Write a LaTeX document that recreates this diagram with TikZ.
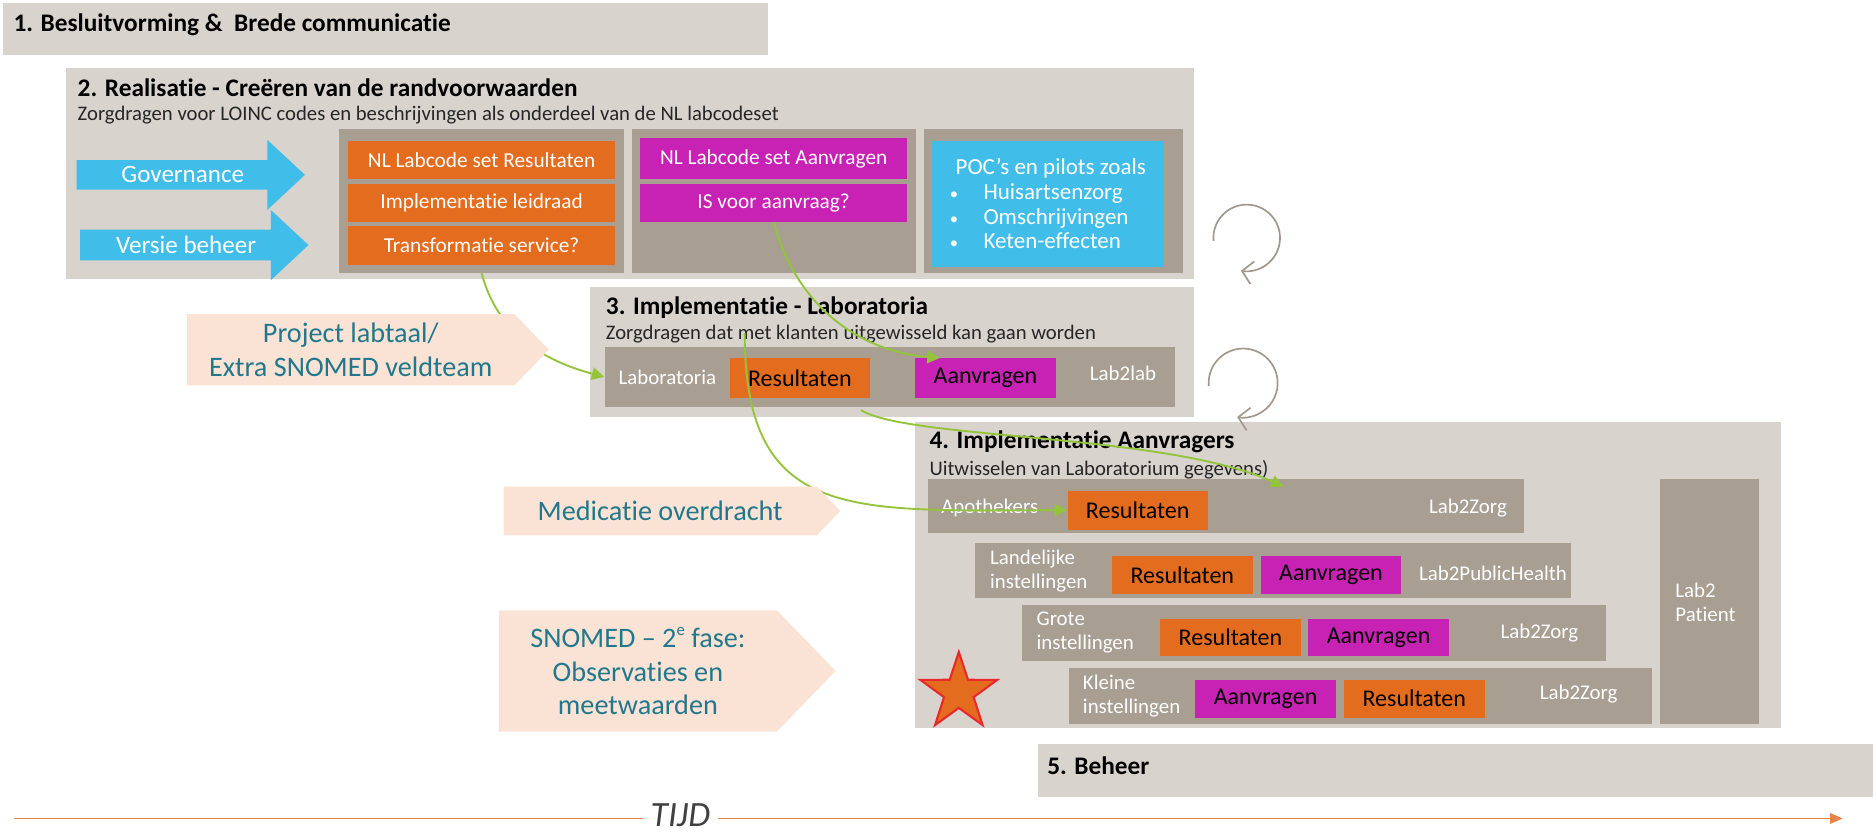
\documentclass[tikz,border=0pt]{standalone}
\usepackage{fontspec}
\setmainfont{Carlito}[Ligatures=CommonOff]
\usetikzlibrary{shapes.arrows,shapes.symbols,shapes.geometric,arrows.meta}

\definecolor{panelc}{HTML}{D9D3CE}
\definecolor{slabc}{HTML}{A89E92}
\definecolor{orngc}{HTML}{E46C1F}
\definecolor{magc}{HTML}{C722B3}
\definecolor{bluec}{HTML}{41BDEA}
\definecolor{peachc}{HTML}{FAE2D5}
\definecolor{tealc}{HTML}{21788C}
\definecolor{linkc}{HTML}{93C43A}
\definecolor{cycc}{HTML}{A0978D}
\definecolor{timec}{HTML}{E8834A}
\definecolor{starc}{HTML}{E8282B}

\newcommand{\pocdot}{{\fontsize{8}{8}\selectfont\textbullet}\hspace{1.1em}}

\begin{document}
\begin{tikzpicture}[x=0.02cm,y=-0.02cm]
\useasboundingbox (0,0) rectangle (1577,703);
\tikzset{
  sz/.style 2 args={minimum width=#1*0.02cm,minimum height=#2*0.02cm},
  panel/.style={fill=panelc,inner sep=0pt,anchor=north west},
  slab/.style={fill=slabc,inner sep=0pt,anchor=north west},
  tag/.style={inner sep=0pt,anchor=north west,text=white,font=\fontsize{10.2}{12}\selectfont},
  res/.style={tag,fill=orngc},
  aan/.style={tag,fill=magc},
  resb/.style={res,text=black,font=\fontsize{11.5}{13}\selectfont},
  aanb/.style={aan,text=black,font=\fontsize{11.5}{13}\selectfont},
  hd/.style={anchor=west,inner sep=0pt,font=\bfseries\fontsize{12.1}{14}\selectfont},
  sub/.style={anchor=west,inner sep=0pt,text=black!85,font=\fontsize{9.9}{11}\selectfont},
  wt/.style={inner sep=0pt,text=white,font=\fontsize{10}{11.4}\selectfont,align=left},
  blk/.style={single arrow,fill=bluec,inner sep=0pt,anchor=west,text=white,
    font=\fontsize{12}{14}\selectfont,single arrow head extend=0.2cm,
    single arrow tip angle=86,minimum width=1.18cm},
  proj/.style={signal,signal to=east,signal pointer angle=92,fill=peachc,inner sep=0pt,
    anchor=west,text=tealc,align=center,font=\fontsize{13.5}{16}\selectfont},
  link/.style={linkc,line width=0.9pt,-{Triangle[length=6pt,width=6pt]}},
  cyc/.style={cycc,line width=0.8pt,-{Straight Barb[length=5pt,width=11pt]}},
  time/.style={timec,line width=0.9pt}
}

% fasen
\node[panel,sz={643}{44}] (p1) at (2,2) {};
\node[hd] (h1) at (11,21) {1. Besluitvorming \&\ \ Brede communicatie};
\node[panel,sz={948}{177}] (p2) at (55,57) {};
\node[hd] (h2) at (65,74) {2. Realisatie - Creëren van de randvoorwaarden};
\node[sub] (s2) at (65,97) {Zorgdragen voor LOINC codes en beschrijvingen als onderdeel van de NL labcodeset};
\node[panel,sz={507}{109}] (p3) at (496,241) {};
\node[hd] (h3) at (509,259) {3. Implementatie - Laboratoria};
\node[sub] (s3) at (509,281) {Zorgdragen dat met klanten uitgewisseld kan gaan worden};
\node[panel,sz={728}{258}] (p4) at (769,354) {};
\node[hd] (h4) at (781,371) {4. Implementatie Aanvragers};
\node[sub] (s4) at (781,395) {Uitwisselen van Laboratorium gegevens)};
\node[panel,sz={702}{45}] (p5) at (872,625) {};
\node[hd] (h5) at (880,644) {5. Beheer};

% realisatie
\node[blk,minimum height=3.84cm] (gov) at (64,147) {Governance};
\node[blk,minimum height=3.84cm] (ver) at (67,206) {Versie beheer};
\node[slab,sz={239}{121}] (col1) at (285,108) {};
\node[slab,sz={239}{121}] (col2) at (531,108) {};
\node[slab,sz={218}{121}] (col3) at (776,108) {};
\node[res,sz={225}{32}] (lcr) at (292,118) {NL Labcode set Resultaten};
\node[res,sz={225}{32}] (ild) at (292,154) {Implementatie leidraad};
\node[res,sz={225}{32}] (trs) at (292,190) {Transformatie service?};
\node[aan,sz={224}{34}] (lca) at (538,116) {NL Labcode set Aanvragen};
\node[aan,sz={224}{32}] (isv) at (538,154) {IS voor aanvraag?};
\node[fill=bluec,inner sep=0pt,anchor=north west,sz={195}{106},text=white,align=left,
  font=\fontsize{11}{11.8}\selectfont] (poc) at (783,118)
  {\hspace{0.25em}POC’s en pilots zoals\\
   \pocdot Huisartsenzorg\\
   \pocdot Omschrijvingen\\
   \pocdot Keten-effecten};

% laboratoria
\node[slab,sz={479}{51}] (lab) at (508,291) {};
\node[wt] (labt) at (561,317) {Laboratoria};
\node[resb,sz={118}{33}] (res3) at (613,301) {Resultaten};
\node[aanb,sz={118}{33}] (aan3) at (769,301) {Aanvragen};
\node[wt] (l2l) at (944,314) {Lab2lab};

% aanvragers
\node[slab,sz={501}{46}] (row1) at (780,402) {};
\node[wt] (apo) at (832,427) {Apothekers};
\node[resb,sz={118}{33}] (res4a) at (897,412) {Resultaten};
\node[wt] (l2z1) at (1234,427) {Lab2Zorg};
\node[slab,sz={501}{46}] (row2) at (819,456) {};
\node[wt,anchor=west] (lan) at (832,480) {Landelijke\\instellingen};
\node[resb,sz={119}{32}] (res4b) at (934,467) {Resultaten};
\node[aanb,sz={117}{32}] (aan4b) at (1060,467) {Aanvragen};
\node[wt] (l2p) at (1255,482) {Lab2PublicHealth};
\node[slab,sz={491}{47}] (row3) at (859,508) {};
\node[wt,anchor=west] (gro) at (871,532) {Grote\\instellingen};
\node[resb,sz={118}{31}] (res4c) at (975,520) {Resultaten};
\node[aanb,sz={119}{31}] (aan4c) at (1099,520) {Aanvragen};
\node[wt] (l2z3) at (1294,532) {Lab2Zorg};
\node[slab,sz={490}{47}] (row4) at (898,561) {};
\node[wt,anchor=west] (kle) at (910,585) {Kleine\\instellingen};
\node[aanb,sz={119}{32}] (aan4d) at (1004,571) {Aanvragen};
\node[resb,sz={119}{32}] (res4d) at (1129,571) {Resultaten};
\node[wt] (l2z4) at (1327,583) {Lab2Zorg};
\node[slab,sz={83}{206}] (pat) at (1395,402) {};
\node[wt,anchor=west] (patt) at (1408,506) {Lab2\\Patient};

% iteraties
\coordinate (cyc1) at (1048,200);
\coordinate (cyc2) at (1045,322);
\draw[cyc] ([shift={(185:0.56cm)}]cyc1) arc[start angle=185,end angle=-100,radius=0.56cm];
\draw[cyc] ([shift={(185:0.58cm)}]cyc2) arc[start angle=185,end angle=-100,radius=0.58cm];

% verbindingen
\draw[link] (col1.south) to[out=-75,in=165] (lab.west);
\draw[link] (isv.south) to[out=-75,in=175] ([xshift=0.42cm]aan3.north west);
\draw[link] ([xshift=0.26cm,yshift=0.42cm]res3.north west) .. controls +(0,160) and +(-180,0) .. (res4a.west);
\draw[link] ([xshift=-0.16cm,yshift=-0.2cm]res3.south east) .. controls +(40,25) and +(-100,-45) .. ([xshift=5.98cm,yshift=-0.14cm]row1.north west);

% projecten
\node[proj,sz={304}{60}] (pla) at (157,294) {Project labtaal/\\Extra SNOMED veldteam};
\node[proj,sz={283}{41}] (med) at (423,429.5) {Medicatie overdracht};
\node[proj,sz={283}{102}] (sno) at (419,564)
  {SNOMED – 2\raisebox{0.45em}{\fontsize{8}{8}\selectfont e} fase:\\Observaties en\\meetwaarden};

\node[star,star points=5,star point ratio=2.6,fill=orngc,draw=starc,line width=1pt,
  minimum size=1.36cm,inner sep=0pt] (ster) at (806,582) {};

% tijdlijn
\coordinate (t0) at (12,688);
\node[font=\itshape\fontsize{17}{18}\selectfont,text=black!75,inner xsep=0.12cm,inner ysep=0pt] (tijd) at (572,685) {TIJD};
\coordinate (t1) at (1549,688);
\draw[time] (t0) -- (t0 -| tijd.west);
\draw[time,-{Triangle[length=6pt,width=5pt]}] (t0 -| tijd.east) -- (t1);
\end{tikzpicture}
\end{document}
